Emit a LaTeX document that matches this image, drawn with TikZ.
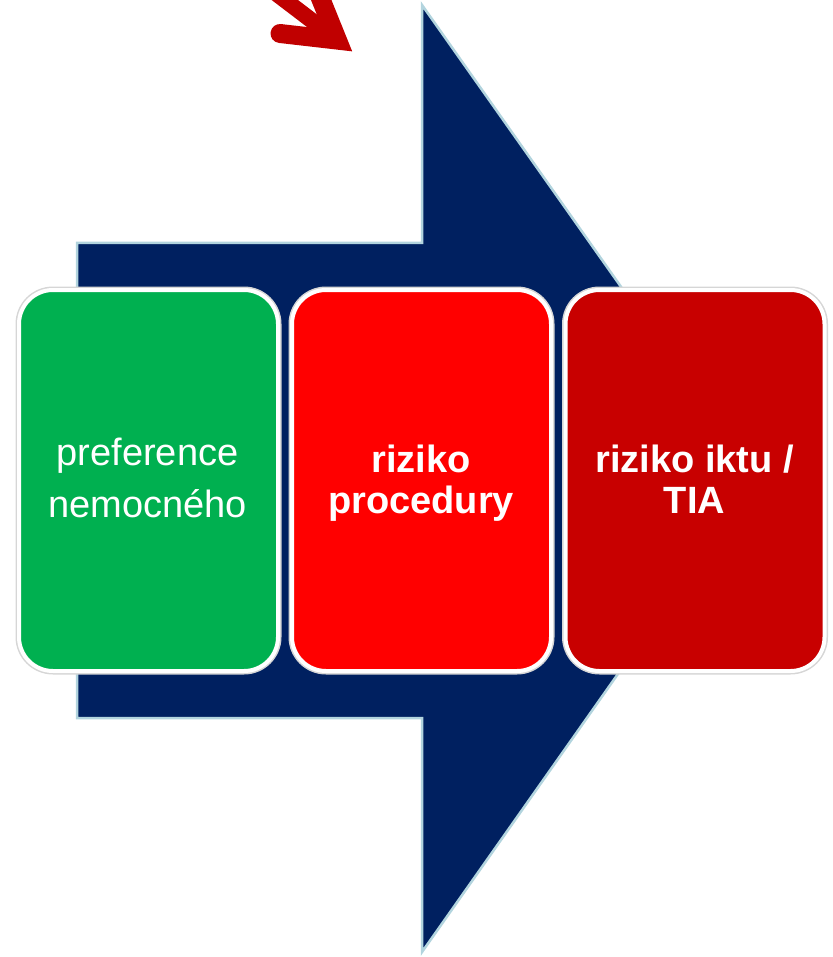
\documentclass[tikz,border=0pt]{standalone}
\usepackage{fontspec}
\setmainfont{Liberation Sans}
\definecolor{navy}{RGB}{0,32,96}
\definecolor{navyedge}{RGB}{178,212,222}
\definecolor{boxgreen}{RGB}{0,176,80}
\definecolor{boxred}{RGB}{255,0,0}
\definecolor{boxdark}{RGB}{200,0,0}
\definecolor{arrowred}{RGB}{192,0,0}

\begin{document}
\begin{tikzpicture}[x=1pt,y=-1pt,
  card/.style={rectangle, rounded corners=34pt, draw=white, line width=4pt,
    minimum width=259pt, minimum height=381pt, inner sep=0pt,
    preaction={draw=black!16, line width=7pt}},
  lbl/.style={text=white, anchor=base, inner sep=0pt,
    font=\fontsize{38}{46}\selectfont},
  lblbold/.style={lbl, font=\fontsize{38}{46}\selectfont\bfseries}]
\useasboundingbox (0,0) rectangle (832,957);
\clip (0,0) rectangle (832,957);

% big navy block arrow
\coordinate (sTL) at (77,243);
\coordinate (hTL) at (422,243);
\coordinate (hT)  at (422,5);
\coordinate (tip) at (756,478);
\coordinate (hB)  at (422,952);
\coordinate (hBL) at (422,718);
\coordinate (sBL) at (77,718);
\fill[navy, draw=navyedge, line width=2.5pt, line join=miter]
  (sTL) -- (hTL) -- (hT) -- (tip) -- (hB) -- (hBL) -- (sBL) -- cycle;

% red pointer arrow at the top
\coordinate (rT) at (337.4,40.1);
\coordinate (rB1) at (280,33.5);
\coordinate (rB2) at (311.2,-24.8);
\coordinate (rS) at (265.9,-14.4);
\draw[arrowred, line width=16pt] (rS) -- (rT);
\draw[arrowred, line width=19pt, line cap=round, line join=miter, miter limit=10]
  (rB1) -- (rT) -- (rB2);

% three cards
\node[card, fill=boxgreen] (pref) at (148.5,480.5) {};
\node[card, fill=boxred]   (proc) at (421.5,480.5) {};
\node[card, fill=boxdark]  (stroke) at (695,480.5) {};

% card labels
\node[lbl] (pref1) at (147.5,465) {preference};
\node[lbl] (pref2) at (147.5,517) {nemocného};
\node[lblbold] (proc1) at (421,472) {riziko};
\node[lblbold] (proc2) at (421,513) {procedury};
\node[lblbold] (stroke1) at (694.5,472) {riziko iktu /};
\node[lblbold] (stroke2) at (694.5,513) {TIA};
\end{tikzpicture}
\end{document}
